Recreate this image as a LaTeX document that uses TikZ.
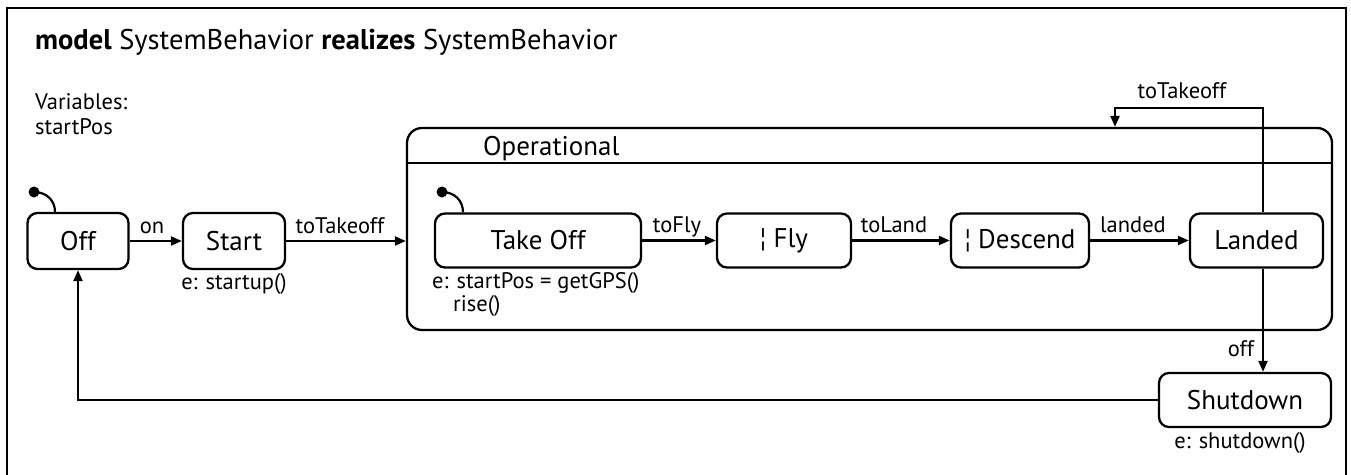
\documentclass[tikz,border=0pt]{standalone}
\usepackage{fontspec}
\setmainfont{PT Sans}
\usetikzlibrary{arrows.meta,calc}
\begin{document}
\begin{tikzpicture}[x=1pt,y=-1pt,
  st/.style={draw, line width=2.3pt, rounded corners=10pt, inner sep=0pt, font=\fontsize{27}{31}\selectfont},
  lbl/.style={inner sep=0pt, anchor=base, font=\fontsize{22.5}{26}\selectfont},
  lblw/.style={inner sep=0pt, anchor=base west, font=\fontsize{22.5}{26}\selectfont},
  tr/.style={line width=2.2pt, -{Triangle[length=11pt,width=9pt]}},
  ini/.style={line width=2.2pt},
]
\useasboundingbox (0,0) rectangle (1351,474);
\draw[line width=2.8pt] (7,490) -- (7,8) -- (1346,8) -- (1346,490);

\node[inner sep=0pt, anchor=base west, font=\fontsize{28.5}{32}\selectfont] (title) at (35,49)
  {\textbf{model} SystemBehavior \textbf{realizes} SystemBehavior};
\node[lblw] (vars) at (35,109) {Variables:};
\node[lblw] (varsp) at (35,134) {startPos};

% states
\node[st, minimum width=101pt, minimum height=56pt] (off) at (78,241) {Off};
\node[st, minimum width=102pt, minimum height=56pt] (start) at (234,241) {Start};
\node[draw, line width=2.3pt, rounded corners=15pt, minimum width=925pt, minimum height=202pt, inner sep=0pt] (oper) at (869.5,229) {};
\draw[line width=2.3pt] (oper.west |- 0,163) -- (oper.east |- 0,163);
\node[inner sep=0pt, anchor=base west, font=\fontsize{27}{31}\selectfont] (opname) at (483,155) {Operational};

\node[st, minimum width=206pt, minimum height=54pt] (takeoff) at (538,240.5) {Take Off};
\node[st, minimum width=134pt, minimum height=54pt] (fly) at (784,240.5) {¦ Fly};
\node[st, minimum width=138pt, minimum height=54pt] (descend) at (1020,240.5) {¦ Descend};
\node[st, minimum width=133pt, minimum height=54pt] (landed) at (1256.5,240.5) {Landed};
\node[st, minimum width=172pt, minimum height=54pt] (shutdown) at (1245,400) {Shutdown};

% entry actions
\node[lbl] (startact) at (234,289) {e: startup()};
\node[lblw] (toact1) at (432,288) {e: startPos = getGPS()};
\node[lblw] (toact2) at (453,311) {rise()};
\node[lbl] (sdact) at (1240,448) {e: shutdown()};

% initial pseudostates
\coordinate (i1) at (34,192);
\fill (i1) circle (5.5);
\draw[ini] (i1) .. controls (46,192) and (55,200) .. (off.north -| 55,0);
\coordinate (i2) at (442,192);
\fill (i2) circle (5.5);
\draw[ini] (i2) .. controls (454,192) and (463,200) .. (takeoff.north -| 463,0);

% transitions
\draw[tr] (off) -- (start);
\node[lbl] (lon) at (152,233) {on};
\draw[tr] (start) -- (start.east -| oper.west);
\node[lbl] (ltt1) at (340,233) {toTakeoff};
\draw[tr] (takeoff) -- (fly);
\node[lbl] (lfly) at (677,232) {toFly};
\draw[tr] (fly) -- (descend);
\node[lbl] (lland) at (894,232) {toLand};
\draw[tr] (descend) -- (landed);
\node[lbl] (llanded) at (1133,232) {landed};

\coordinate (rx) at (1263,108);
\coordinate (tx) at (1115,108);
\draw[tr] (landed.north -| rx) -- (rx) -- (tx) -- (tx |- oper.north);
\node[lbl] (ltt2) at (1182,98) {toTakeoff};

\draw[tr] (landed.south -| rx) -- (shutdown.north -| rx);
\node[lbl] (loff) at (1241,356) {off};

\draw[tr] (shutdown.west) -| (off.south);
\end{tikzpicture}
\end{document}
